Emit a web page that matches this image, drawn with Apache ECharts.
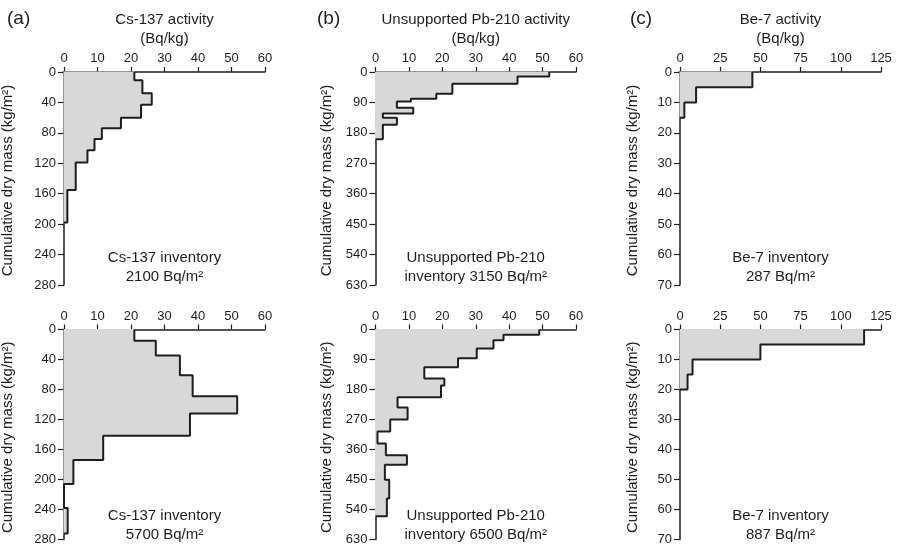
<!DOCTYPE html>
<html>
<head>
<meta charset="utf-8">
<script src="https://cdn.jsdelivr.net/npm/echarts@6/dist/echarts.min.js"></script>
<style>
  html, body { margin: 0; padding: 0; background: #fff; }
  #chart { width: 898px; height: 546px; }
</style>
</head>
<body>
<div id="chart"></div>
<script>
// layer boundaries (cumulative dry mass, kg/m2) and activity of each layer (Bq/kg)
// Cs-137, upper and lower core
const csDepth1 = [0, 11, 28, 43, 60, 74, 88, 103, 119, 155, 198];
const csValue1 = [21, 23.4, 26.2, 23, 17, 11.3, 9.1, 7, 3.5, 1];
const csDepth2 = [0, 15, 34.5, 61, 89, 112, 141.5, 174, 206, 238, 272];
const csValue2 = [21, 27.4, 34.6, 38.4, 51.7, 37.6, 11.7, 2.8, 0, 1.1];

// unsupported Pb-210
const pbDepth1 = [0, 13.5, 35, 64, 79, 87, 106, 123, 135, 156, 199];
const pbValue1 = [52, 42.5, 23, 18.2, 10.6, 6.4, 11.3, 2.2, 6.4, 2.2];
const pbDepth2 = [0, 16, 32, 57, 86, 113, 147, 168, 203, 234, 270, 306, 342, 377, 406, 451, 507, 560];
const pbValue2 = [49, 38.3, 35.3, 30.3, 24.7, 14.6, 20.6, 19.6, 6.6, 9.6, 4.4, 0.6, 3.1, 9.4, 2.8, 4.1, 3.4];

// Be-7
const beDepth1 = [0, 5, 10, 15];
const beValue1 = [45, 10, 2.7];
const beDepth2 = [0, 5, 10, 15, 20];
const beValue2 = [114.5, 50, 7.8, 4.7];

// axis ranges
const xMax = [60, 60, 125];
const xStep = [10, 10, 25];
const yMax = [280, 630, 70];
const yStep = [40, 90, 10];

const titles = ['Cs-137 activity', 'Unsupported Pb-210 activity', 'Be-7 activity'];
const letters = ['(a)', '(b)', '(c)'];
const inventory = [
  ['Cs-137 inventory', '2100 Bq/m²'],
  ['Unsupported Pb-210', 'inventory 3150 Bq/m²'],
  ['Be-7 inventory', '287 Bq/m²'],
  ['Cs-137 inventory', '5700 Bq/m²'],
  ['Unsupported Pb-210', 'inventory 6500 Bq/m²'],
  ['Be-7 inventory', '887 Bq/m²']
];

const profiles = [
  [csDepth1, csValue1], [pbDepth1, pbValue1], [beDepth1, beValue1],
  [csDepth2, csValue2], [pbDepth2, pbValue2], [beDepth2, beValue2]
];

const ink = '#1e1e1e';
const shade = '#d8d8d8';
const font = 'Liberation Sans, Arial, sans-serif';
const colLeft = [64, 375.5, 680];
const colWidth = [201, 200.5, 201];
const rowTop = [72, 329.5];
const rowHeight = [213, 211.5];
const yTitleX = [8, 327, 633];

function outline(depth, vals) {
  const pts = [];
  for (let i = 0; i < vals.length; i++) {
    pts.push([vals[i], depth[i]]);
    pts.push([vals[i], depth[i + 1]]);
  }
  pts.push([0, depth[depth.length - 1]]);
  return pts;
}

function layers(depth, vals) {
  return vals.map((v, i) => [v, depth[i], depth[i + 1]]);
}

function renderLayer(params, api) {
  const p0 = api.coord([0, api.value(1)]);
  const p1 = api.coord([api.value(0), api.value(2)]);
  return {
    type: 'rect',
    shape: { x: p0[0], y: p0[1], width: p1[0] - p0[0], height: p1[1] - p0[1] },
    style: { fill: shade, stroke: shade, lineWidth: 1 }
  };
}

const grid = [], xAxis = [], yAxis = [], series = [], graphic = [];

for (let k = 0; k < 6; k++) {
  const col = k % 3, row = Math.floor(k / 3);
  grid.push({ left: colLeft[col], top: rowTop[row], width: colWidth[col], height: rowHeight[row] });
  xAxis.push({
    type: 'value', gridIndex: k, position: 'top',
    min: 0, max: xMax[col], interval: xStep[col],
    axisLine: { show: true, lineStyle: { color: ink, width: 1.5 } },
    axisTick: { show: true, length: 5, lineStyle: { color: ink, width: 1.2 } },
    axisLabel: { color: ink, fontSize: 13, fontFamily: font, margin: 7 },
    splitLine: { show: false }
  });
  yAxis.push({
    type: 'value', gridIndex: k, inverse: true,
    min: 0, max: yMax[col], interval: yStep[col],
    axisLine: { show: true, lineStyle: { color: ink, width: 1.5 } },
    axisTick: { show: true, length: 6, lineStyle: { color: ink, width: 1.2 } },
    axisLabel: { color: ink, fontSize: 13, fontFamily: font, margin: 8 },
    splitLine: { show: false }
  });
  const d = profiles[k][0], v = profiles[k][1];
  series.push({
    type: 'custom', xAxisIndex: k, yAxisIndex: k,
    renderItem: renderLayer,
    encode: { x: 0, y: [1, 2] },
    data: layers(d, v),
    z: 1, silent: true
  });
  series.push({
    type: 'line', xAxisIndex: k, yAxisIndex: k,
    data: outline(d, v),
    symbol: 'none',
    lineStyle: { color: ink, width: 2 },
    z: 3, silent: true
  });

  const cx = colLeft[col] + colWidth[col] / 2;
  const baseY = row === 0 ? 258 : 516;
  graphic.push({
    type: 'text', x: cx, y: baseY,
    style: { text: inventory[k][0], fill: ink, font: '15px ' + font, textAlign: 'center', textVerticalAlign: 'middle' }
  });
  graphic.push({
    type: 'text', x: cx, y: baseY + 19,
    style: { text: inventory[k][1], fill: ink, font: '15px ' + font, textAlign: 'center', textVerticalAlign: 'middle' }
  });
  graphic.push({
    type: 'text', x: yTitleX[col], y: rowTop[row] + rowHeight[row] / 2 + 2, rotation: Math.PI / 2,
    style: { text: 'Cumulative dry mass (kg/m²)', fill: ink, font: '15px ' + font, textAlign: 'center', textVerticalAlign: 'middle' }
  });
}

const letterX = [7, 317, 630];
for (let c = 0; c < 3; c++) {
  const cx = colLeft[c] + colWidth[c] / 2;
  graphic.push({
    type: 'text', x: letterX[c], y: 19,
    style: { text: letters[c], fill: ink, font: '19px ' + font, textVerticalAlign: 'middle' }
  });
  graphic.push({
    type: 'text', x: cx, y: 20,
    style: { text: titles[c], fill: ink, font: '15px ' + font, textAlign: 'center', textVerticalAlign: 'middle' }
  });
  graphic.push({
    type: 'text', x: cx, y: 39,
    style: { text: '(Bq/kg)', fill: ink, font: '15px ' + font, textAlign: 'center', textVerticalAlign: 'middle' }
  });
}

const chart = echarts.init(document.getElementById('chart'), null, { renderer: 'canvas' });
chart.setOption({
  animation: false,
  backgroundColor: '#fff',
  grid: grid,
  xAxis: xAxis,
  yAxis: yAxis,
  series: series,
  graphic: graphic
});
</script>
</body>
</html>
